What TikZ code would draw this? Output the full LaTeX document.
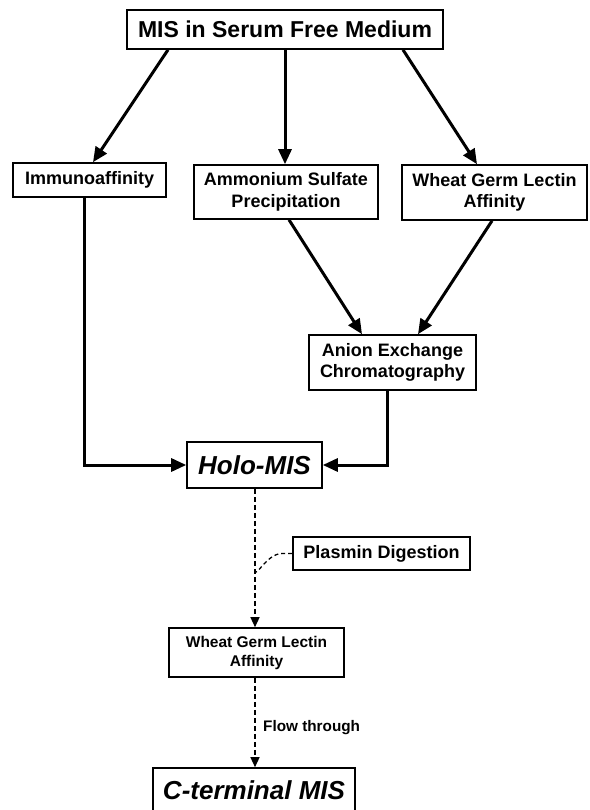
\documentclass[tikz,border=0pt]{standalone}
\usepackage{fontspec}
\setmainfont{Liberation Sans}
\usetikzlibrary{arrows.meta,calc}
\tikzset{
  box/.style={draw=black, line width=1.6pt, inner sep=0pt, align=center, font=\bfseries},
  solidarrow/.style={line width=3pt, -{Triangle[length=15pt,width=13pt]}},
  dasharrow/.style={line width=1.3pt, dash pattern=on 5pt off 3pt, -{Triangle[length=10pt,width=9pt]}},
  dashline/.style={line width=1.3pt, dash pattern=on 4pt off 3pt},
  lbl/.style={inner sep=0pt, font=\bfseries}
}
\begin{document}
\begin{tikzpicture}[x=1pt,y=-1pt]
\useasboundingbox (0,0) rectangle (589,810);
\node[box, minimum width=316pt, minimum height=39pt, font=\bfseries\fontsize{23}{27}\selectfont] (top) at (285,29.5) {MIS in Serum Free Medium};
\node[box, minimum width=153pt, minimum height=34pt, font=\bfseries\fontsize{18}{21.5}\selectfont] (im) at (89.5,180) {Immunoaffinity};
\node[box, minimum width=184pt, minimum height=54pt, font=\bfseries\fontsize{18}{21.5}\selectfont] (am) at (286,192) {Ammonium Sulfate\\Precipitation};
\node[box, minimum width=185pt, minimum height=55pt, font=\bfseries\fontsize{18}{21.5}\selectfont] (wh) at (494.5,192.5) {Wheat Germ Lectin\\Affinity};
\node[box, minimum width=167pt, minimum height=55pt, font=\bfseries\fontsize{18}{21.5}\selectfont] (an) at (392.5,362.5) {Anion Exchange\\Chromatography};
\node[box, minimum width=135pt, minimum height=46pt, font=\bfseries\itshape\fontsize{26}{30}\selectfont] (holo) at (254.5,465) {Holo-MIS};
\node[box, minimum width=177pt, minimum height=33pt, font=\bfseries\fontsize{18}{21.5}\selectfont] (pl) at (381.5,553.5) {Plasmin Digestion};
\node[box, minimum width=175pt, minimum height=49pt, font=\bfseries\fontsize{15.5}{19}\selectfont] (w2) at (256.5,652.5) {Wheat Germ Lectin\\Affinity};
\node[box, minimum width=202pt, minimum height=44pt, font=\bfseries\itshape\fontsize{26}{30}\selectfont] (ct) at (254,790) {C-terminal MIS};
\node[lbl, anchor=west, font=\bfseries\fontsize{15.3}{18}\selectfont] (ft) at (263,728) {Flow through};

\draw[solidarrow] ([xshift=-117pt]top.south) -- ([xshift=3.5pt]im.north);
\draw[solidarrow] (top.south) -- (top.south |- am.north);
\draw[solidarrow] ([xshift=118pt]top.south) -- ([xshift=-17.5pt]wh.north);
\draw[solidarrow] ([xshift=3pt]am.south) -- ([xshift=-30.5pt]an.north);
\draw[solidarrow] ([xshift=-2.5pt]wh.south) -- ([xshift=25.5pt]an.north);
\draw[solidarrow] ([xshift=-5.5pt]im.south) |- (holo.west);
\draw[solidarrow] ([xshift=-5.5pt]an.south) |- (holo.east);

\coordinate (hb) at ([xshift=0.5pt]holo.south);
\coordinate (pj) at (hb |- 0,570);
\draw[dasharrow] (hb) -- (hb |- w2.north);
\draw[dashline] (pl.west) -- ++(-10pt,0) .. controls +(-16pt,0) and ($(pj)+(0,-10pt)$) .. (pj);
\draw[dasharrow] (hb |- w2.south) -- (hb |- ct.north);
\end{tikzpicture}
\end{document}
